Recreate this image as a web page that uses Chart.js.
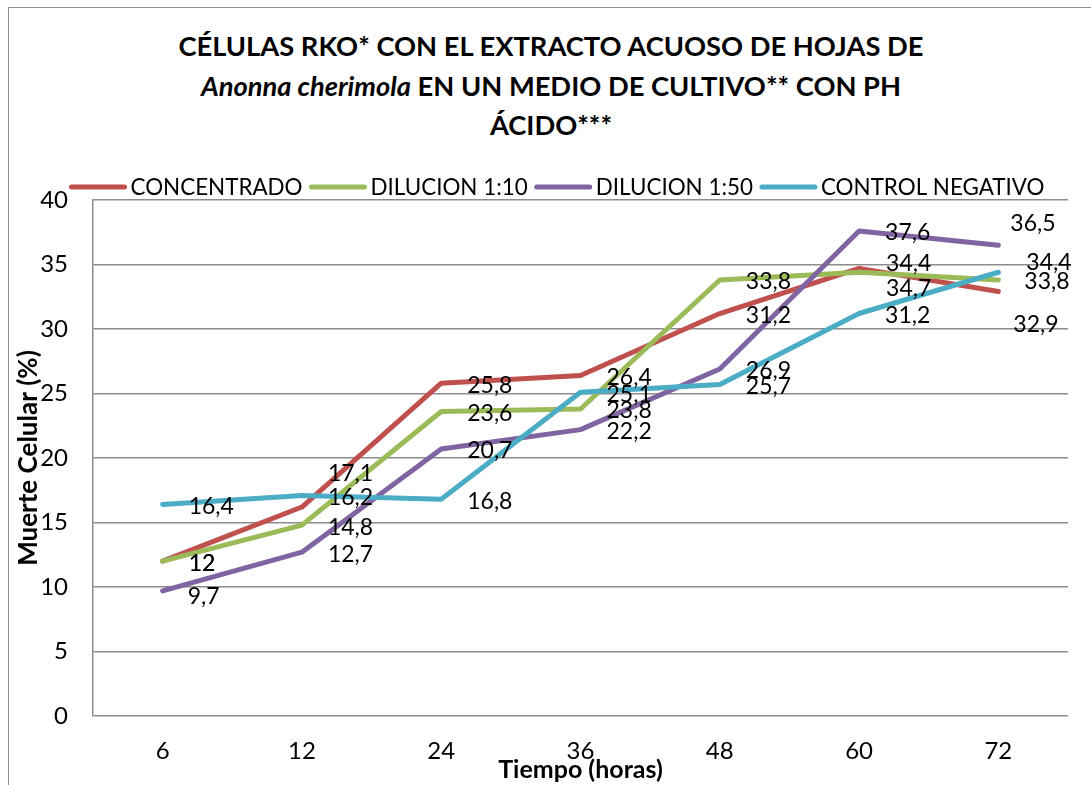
<!DOCTYPE html>
<html>
<head>
<meta charset="utf-8">
<script src="https://cdn.jsdelivr.net/npm/chart.js@4.4.1/dist/chart.umd.min.js"></script>
<style>
  html, body { margin: 0; padding: 0; background: #fff; overflow: hidden; }
  #wrap { position: relative; width: 1091px; height: 785px; }
  #frame { position: absolute; left: 8px; top: 7px; width: 1200px; height: 900px; border: 1.5px solid #8c8c8c; }
  #title { position: absolute; left: 0; top: 26px; width: 1102px; text-align: center;
           font-family: Lato, sans-serif; font-weight: bold; font-size: 27.3px; line-height: 39.5px; color: #000; }
  canvas { position: absolute; left: 0; top: 0; }
</style>
</head>
<body>
<div id="wrap">
  <div id="frame"></div>
  <div id="title">CÉLULAS RKO* CON EL EXTRACTO ACUOSO DE HOJAS DE<br><i>Anonna cherimola</i> EN UN MEDIO DE CULTIVO** CON PH<br>ÁCIDO***</div>
  <canvas id="chart" width="1091" height="785"></canvas>
</div>
<script>
// horas
const horas = ['6', '12', '24', '36', '48', '60', '72'];

// % muerte celular por serie
const concentrado = [12, 16.2, 25.8, 26.4, 31.2, 34.7, 32.9];
const dilucion10 = [12, 14.8, 23.6, 23.8, 33.8, 34.4, 33.8];
const dilucion50 = [9.7, 12.7, 20.7, 22.2, 26.9, 37.6, 36.5];
const controlNegativo = [16.4, 17.1, 16.8, 25.1, 25.7, 31.2, 34.4];

const yTicks = [0, 5, 10, 15, 20, 25, 30, 35, 40];

// desplazamiento de algunas etiquetas (serie,punto) -> [dx, dy]
const ajusteEtiquetas = {
    '3,1': [26, -22], '0,1': [26, -9], '2,0': [25, 6],
    '1,5': [27, -9], '0,5': [27, 20],
    '2,6': [12, -22], '3,6': [28, -10], '0,6': [15, 33]
};

const etiquetas = {
    id: 'etiquetas',
    afterDatasetsDraw(chart) {
        const ctx = chart.ctx;
        ctx.save();
        ctx.font = '23px Lato, sans-serif';
        ctx.fillStyle = '#000';
        ctx.textAlign = 'left';
        ctx.textBaseline = 'middle';
        chart.data.datasets.forEach((ds, i) => {
            chart.getDatasetMeta(i).data.forEach((pt, j) => {
                const adj = ajusteEtiquetas[i + ',' + j] || [26, 2];
                const txt = String(ds.data[j]).replace('.', ',');
                ctx.fillText(txt, pt.x + adj[0], pt.y + adj[1]);
            });
        });
        ctx.restore();
    }
};

// leyenda en una sola fila, como en Excel
const leyenda = {
    id: 'leyenda',
    afterDraw(chart) {
        const ctx = chart.ctx;
        const muestra = 57, sep = 4, entre = 7, y = 187;
        ctx.save();
        ctx.font = '22.4px Lato, sans-serif';
        ctx.textBaseline = 'middle';
        ctx.textAlign = 'left';
        const items = chart.data.datasets.map(ds => ({
            ds: ds, w: muestra + sep + ctx.measureText(ds.label).width
        }));
        const total = items.reduce((a, it) => a + it.w, 0) + entre * (items.length - 1);
        let x = 557 - total / 2;
        items.forEach(it => {
            ctx.strokeStyle = it.ds.borderColor;
            ctx.lineWidth = 5;
            ctx.lineCap = 'round';
            ctx.beginPath();
            ctx.moveTo(x + 2, y);
            ctx.lineTo(x + muestra - 2, y);
            ctx.stroke();
            ctx.fillStyle = '#000';
            ctx.fillText(it.ds.label, x + muestra + sep, y + 1);
            x += it.w + entre;
        });
        ctx.restore();
    }
};

function serie(label, data, color, order) {
    return {
        label: label,
        data: data,
        borderColor: color,
        backgroundColor: color,
        borderWidth: 5,
        borderCapStyle: 'round',
        borderJoinStyle: 'round',
        pointRadius: 0,
        tension: 0,
        order: order
    };
}

const ctx = document.getElementById('chart').getContext('2d');
new Chart(ctx, {
    type: 'line',
    data: {
        labels: horas,
        datasets: [
            serie('CONCENTRADO', concentrado, '#C0504D', 4),
            serie('DILUCION 1:10', dilucion10, '#9BBB59', 3),
            serie('DILUCION 1:50', dilucion50, '#8064A2', 2),
            serie('CONTROL NEGATIVO', controlNegativo, '#4BACC6', 1)
        ]
    },
    plugins: [etiquetas, leyenda],
    options: {
        responsive: false,
        animation: false,
        layout: { padding: { top: 200, right: 23, left: 0, bottom: 0 } },
        plugins: {
            tooltip: { enabled: false },
            legend: { display: false }
        },
        scales: {
            x: {
                offset: true,
                grid: { display: false, drawTicks: false },
                border: { display: false },
                ticks: { color: '#000', padding: 21, font: { family: 'Lato', size: 24 } },
                title: {
                    display: true,
                    text: 'Tiempo (horas)',
                    color: '#000',
                    padding: { top: 0, bottom: 0 },
                    font: { family: 'Lato', size: 25, weight: 'bold' }
                },
                afterFit: (s) => { s.height = 69; }
            },
            y: {
                min: 0,
                max: 40,
                afterBuildTicks: (s) => { s.ticks = yTicks.map(v => ({ value: v })); },
                grid: { color: '#8c8c8c', lineWidth: 1.5, drawTicks: false },
                border: { display: true, color: '#8c8c8c', width: 1.5 },
                ticks: { color: '#000', padding: 25, font: { family: 'Lato', size: 24 } },
                title: {
                    display: true,
                    text: 'Muerte Celular (%)',
                    color: '#000',
                    padding: { top: 13, bottom: 0 },
                    font: { family: 'Lato', size: 26, weight: 'bold' }
                },
                afterFit: (s) => { s.width = 93; }
            }
        }
    }
});
</script>
</body>
</html>
